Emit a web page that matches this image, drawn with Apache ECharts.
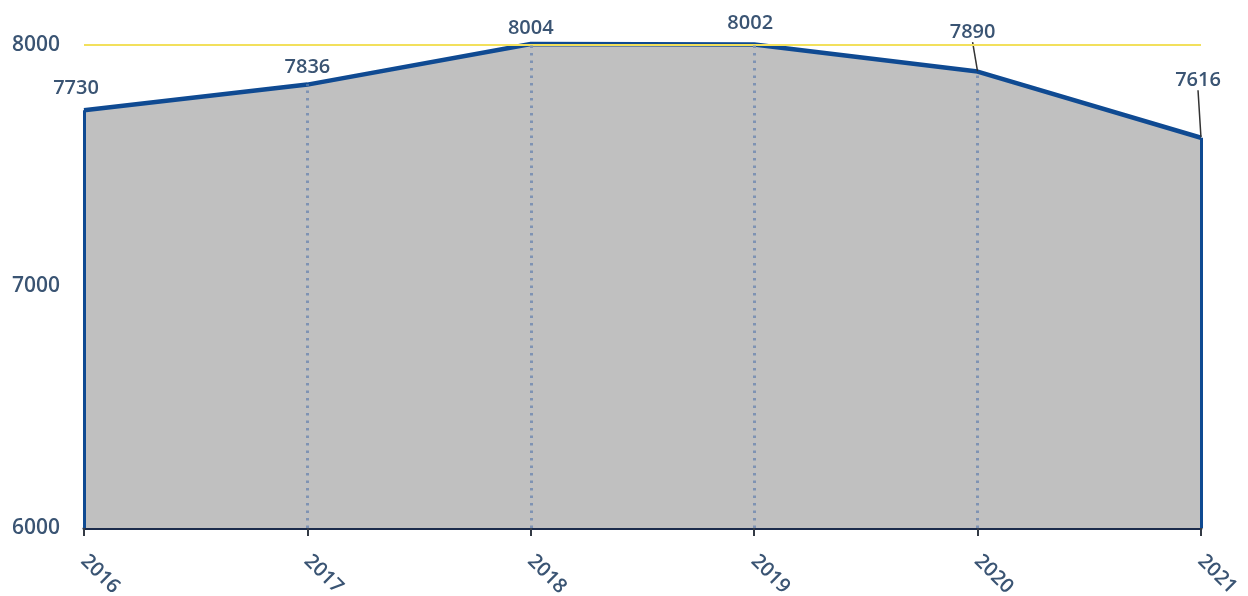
<!DOCTYPE html>
<html>
<head>
<meta charset="utf-8">
<script src="https://cdn.jsdelivr.net/npm/echarts@6/dist/echarts.min.js"></script>
<style>
  html, body { margin: 0; padding: 0; background: #ffffff; }
  #chart { width: 1248px; height: 596px; }
</style>
</head>
<body>
<div id="chart"></div>
<script>
// Yearly totals
const years = ['2016', '2017', '2018', '2019', '2020', '2021'];
const totals = [7730, 7836, 8004, 8002, 7890, 7616];
const yTicks = [6000, 7000, 8000];
const targetLevel = 8000;

const yMin = yTicks[0];
const yMax = yTicks[yTicks.length - 1];

const textColor = '#3a5473';
const lineColor = '#0f4a92';
const fontFamily = '"Open Sans", "Noto Sans", sans-serif';

// Label shifts (px) from the default "top" spot; guide=true draws a leader line
const labelShift = [
  { dx: -8, dy: -6 },
  { dx: 0, dy: -2 },
  { dx: 0, dy: 0 },
  { dx: -4, dy: -6 },
  { dx: -5, dy: -24, guide: true },
  { dx: -3, dy: -42, guide: true }
];

const seriesData = totals.map((v, i) => {
  const item = { value: v };
  if (labelShift[i].guide) {
    item.labelLine = { show: true, lineStyle: { color: '#333333', width: 1.5 } };
  }
  return item;
});

// Dotted drop lines for inner years, solid edges for first and last
const dropLines = years.map((y, i) => {
  const edge = i === 0 || i === years.length - 1;
  return [
    { coord: [y, yMin], symbol: 'none',
      lineStyle: edge ? { color: lineColor, width: 3, type: 'solid' }
                      : { color: '#7f93b3', width: 3, type: [2.5, 5] } },
    { coord: [y, Math.min(totals[i], yMax)], symbol: 'none' }
  ];
});

const chart = echarts.init(document.getElementById('chart'));
chart.setOption({
  animation: false,
  backgroundColor: '#ffffff',
  grid: { left: 84, right: 47, top: 45, bottom: 68, containLabel: false, outerBoundsMode: 'none' },
  xAxis: {
    type: 'category',
    data: years,
    boundaryGap: false,
    axisLine: { show: true, lineStyle: { color: '#1b2b4b', width: 3 } },
    axisTick: { show: true, alignWithLabel: true, length: 8, lineStyle: { color: '#333a45', width: 2 } },
    axisLabel: {
      rotate: -45, margin: 30, color: textColor,
      fontFamily, fontSize: 20, fontWeight: 600
    },
    splitLine: { show: false }
  },
  yAxis: {
    type: 'value',
    min: yMin, max: yMax, interval: 1000,
    axisLine: { show: false },
    axisTick: { show: false },
    splitLine: { show: false },
    axisLabel: {
      margin: 24, color: textColor,
      fontFamily, fontSize: 21, fontWeight: 600,
      formatter: (v) => String(v)
    }
  },
  series: [{
    type: 'line',
    data: seriesData,
    clip: false,
    symbol: 'circle',
    symbolSize: 1,
    showSymbol: true,
    itemStyle: { color: 'rgba(0,0,0,0)', borderWidth: 0 },
    lineStyle: { color: lineColor, width: 4.5 },
    areaStyle: { color: '#c0c0c0', opacity: 1, origin: 'start' },
    label: {
      show: true, position: 'top', color: textColor, fontFamily,
      fontSize: 20, fontWeight: 600
    },
    labelLayout: (params) => ({
      dx: labelShift[params.dataIndex].dx,
      dy: labelShift[params.dataIndex].dy
    }),
    z: 3,
    markLine: {
      silent: true, symbol: 'none', label: { show: false },
      animation: false,
      data: [
        [{ coord: [years[0], targetLevel], lineStyle: { color: '#f2e05c', width: 2, type: 'solid' } },
         { coord: [years[years.length - 1], targetLevel] }],
        ...dropLines
      ]
    }
  }]
});
</script>
</body>
</html>
